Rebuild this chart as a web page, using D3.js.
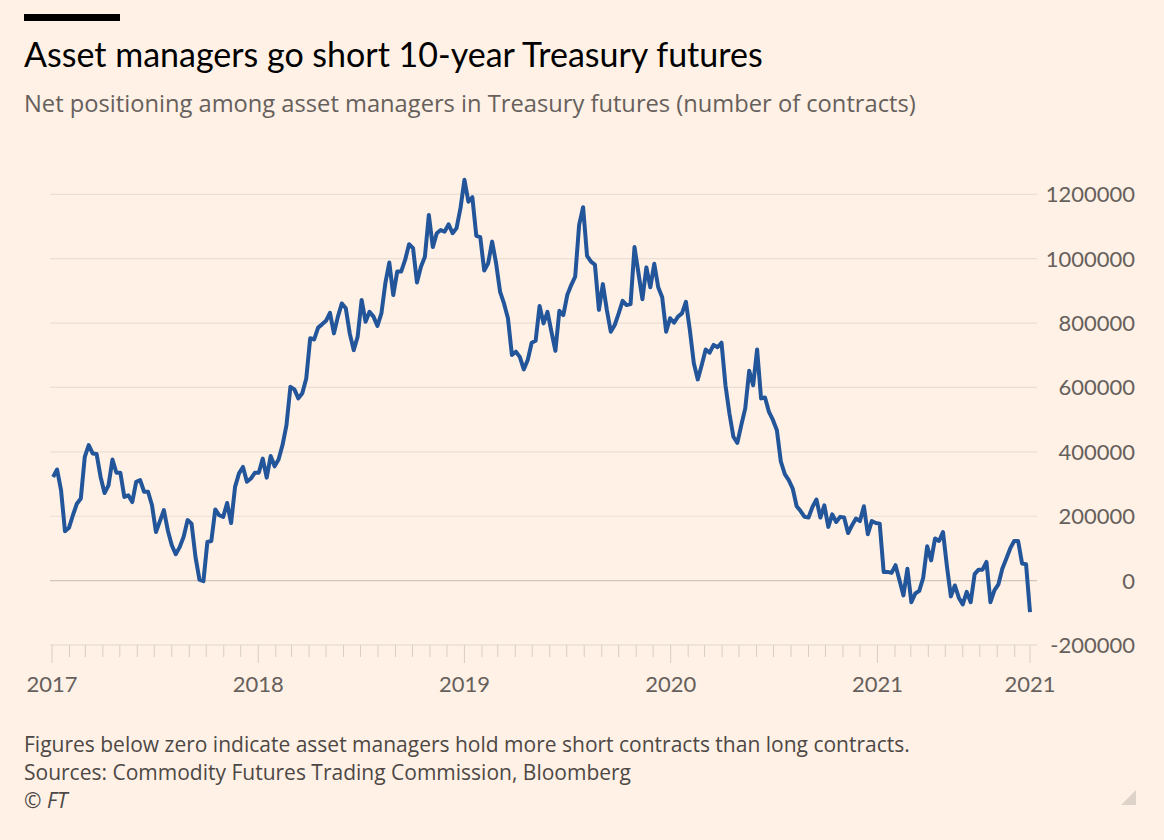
<!DOCTYPE html>
<html>
<head>
<meta charset="utf-8">
<script src="https://cdn.jsdelivr.net/npm/d3@7"></script>
<style>
  body { margin: 0; background: #fff1e5; }
  svg { display: block; font-family: Lato, "Noto Sans", sans-serif; }
  .body-text { font-family: "Open Sans", "Noto Sans", sans-serif; }
</style>
</head>
<body>
<div class="canvas"></div>
<script>
// weekly CFTC readings (Tuesdays), net contracts, in thousands
const startDate = '2017-01-03';
const netPositions = [
  322, 345, 281, 153, 164, 203, 239, 255, 384, 421,
  395, 393, 322, 272, 296, 376, 335, 335, 260, 265,
  244, 307, 312, 276, 276, 234, 151, 185, 219, 156,
  110, 82, 104, 136, 188, 177, 73, 3, -2, 120,
  123, 221, 203, 198, 241, 179, 291, 333, 353, 307,
  317, 335, 335, 379, 320, 387, 355, 376, 421, 483,
  602, 594, 566, 582, 628, 753, 749, 786, 796, 807,
  832, 768, 820, 861, 846, 768, 716, 758, 872, 804,
  835, 820, 791, 830, 924, 988, 887, 960, 960,
  996, 1045, 1033, 926, 975, 1006, 1136, 1036, 1079, 1089,
  1084, 1107, 1079, 1095, 1157, 1245, 1177, 1191, 1071, 1067,
  963, 986, 1053, 986, 898, 861, 815, 701, 711, 695,
  656, 685, 739, 745, 853, 799, 835, 773, 714, 838,
  825, 887, 918, 944, 1105, 1160, 1009, 991, 981, 841,
  921, 841, 773, 794, 830, 869, 856, 859, 1036, 955,
  874, 973, 911, 984, 911, 880, 773, 815, 801, 820,
  830, 866, 778, 675, 625, 670, 718, 708, 732, 725,
  739, 607, 519, 447, 428, 483, 535, 652, 607, 718,
  566, 569, 524, 499, 467, 370,
  331, 312, 286, 231, 216, 198, 196, 229, 252, 196,
  234, 167, 206, 182, 198, 196, 148, 172, 193, 185,
  231, 144, 185, 179, 177, 27, 27, 24, 48, 1,
  -46, 37, -67, -40, -32, 9, 107, 63, 131, 123,
  151, 44, -49, -15, -53, -74, -35, -67, 20, 34,
  34, 58, -67, -30, -12, 37, 68, 100, 123, 123,
  53, 51, -98
];
const yTicks = [-200000, 0, 200000, 400000, 600000, 800000, 1000000, 1200000];
const yearTicks = ['2017-01-01', '2018-01-01', '2019-01-01', '2020-01-01', '2021-01-01'];

const title = 'Asset managers go short 10-year Treasury futures';
const subtitle = 'Net positioning among asset managers in Treasury futures (number of contracts)';
const notes = [
  'Figures below zero indicate asset managers hold more short contracts than long contracts.',
  'Sources: Commodity Futures Trading Commission, Bloomberg'
];

const width = 1164, height = 840;
const parse = d3.timeParse('%Y-%m-%d');
const t0 = parse(startDate);
const data = netPositions.map((v, i) => ({ date: d3.timeDay.offset(t0, i * 7), value: v * 1000 }));
const lastDate = data[data.length - 1].date;

const svg = d3.select('.canvas')
  .append('svg')
    .attr('width', width)
    .attr('height', height);

svg.append('rect').attr('width', width).attr('height', height).attr('fill', '#fff1e5');

// header
svg.append('rect').attr('x', 24).attr('y', 14).attr('width', 96).attr('height', 7).attr('fill', '#000');
svg.append('text').attr('x', 24).attr('y', 67)
  .attr('font-size', 34).attr('fill', '#000').text(title);
svg.append('text').attr('class', 'body-text').attr('x', 24).attr('y', 112)
  .attr('font-size', 23.7).attr('fill', '#66605c').text(subtitle);

// scales
const x = d3.scaleTime()
  .domain([parse('2017-01-01'), lastDate])
  .range([52, 1030]);
const y = d3.scaleLinear()
  .domain([-200000, 1200000])
  .range([645, 194.3]);

const gridLeft = 50, gridRight = 1037;

// gridlines
svg.append('g')
  .selectAll('line')
  .data(yTicks)
  .join('line')
    .attr('x1', gridLeft).attr('x2', gridRight)
    .attr('y1', d => y(d)).attr('y2', d => y(d))
    .attr('stroke', d => d === 0 ? '#cfc5bb' : '#eadfd4')
    .attr('stroke-width', d => d === -200000 ? 1.5 : 1.2);

// y labels on the right
svg.append('g')
  .selectAll('text')
  .data(yTicks)
  .join('text')
    .attr('x', 1135).attr('y', d => y(d))
    .attr('dy', '0.36em')
    .attr('text-anchor', 'end')
    .attr('font-size', 22).attr('fill', '#66605c')
    .text(d => d);

// x axis: monthly minor ticks, yearly major ticks, final date labelled with its year
const xAxisGroup = svg.append('g').attr('transform', `translate(0, ${y(-200000)})`);
const months = d3.timeMonth.range(parse('2017-02-01'), lastDate);
xAxisGroup.selectAll('line.minor')
  .data(months.filter(d => d.getMonth() !== 0))
  .join('line')
    .attr('class', 'minor')
    .attr('x1', d => x(d)).attr('x2', d => x(d))
    .attr('y1', 0).attr('y2', 12)
    .attr('stroke', '#d8cec4').attr('stroke-width', 1);

const majors = yearTicks.map(parse).concat([lastDate]);
xAxisGroup.selectAll('line.major')
  .data(majors)
  .join('line')
    .attr('class', 'major')
    .attr('x1', d => x(d)).attr('x2', d => x(d))
    .attr('y1', 0).attr('y2', 18)
    .attr('stroke', '#d8cec4').attr('stroke-width', 1);

xAxisGroup.selectAll('text')
  .data(majors)
  .join('text')
    .attr('x', d => x(d)).attr('y', 47)
    .attr('text-anchor', 'middle')
    .attr('font-size', 22).attr('fill', '#66605c')
    .text(d => d3.timeFormat('%Y')(d));

// the line
const line = d3.line()
  .x(d => x(d.date))
  .y(d => y(d.value));

svg.append('path')
  .datum(data)
  .attr('d', line)
  .attr('fill', 'none')
  .attr('stroke', '#23559a')
  .attr('stroke-width', 4)
  .attr('stroke-linejoin', 'round')
  .attr('stroke-linecap', 'butt');

// footer
svg.append('g')
  .selectAll('text')
  .data(notes)
  .join('text')
    .attr('class', 'body-text')
    .attr('x', 24).attr('y', (d, i) => 752 + i * 28)
    .attr('font-size', 21).attr('fill', '#4d4845')
    .text(d => d);
svg.append('text').attr('class', 'body-text').attr('x', 24).attr('y', 808)
  .attr('font-size', 21).attr('font-style', 'italic').attr('fill', '#4d4845')
  .text('© FT');

// resize corner
svg.append('path')
  .attr('d', 'M1136,790 L1136,805 L1121,805 Z')
  .attr('fill', '#ddd3c9');
</script>
</body>
</html>
